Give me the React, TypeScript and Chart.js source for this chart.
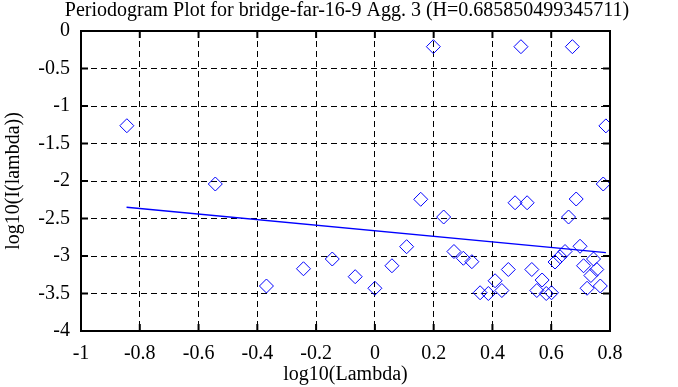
import React, { useEffect, useRef } from "react";
import { Chart, registerables } from "chart.js";

Chart.register(...registerables);

const TITLE = "Periodogram Plot for bridge-far-16-9 Agg. 3 (H=0.685850499345711)";
const X_LABEL = "log10(Lambda)";
const Y_LABEL = "log10(I(lambda))";

const logLambda = [
  -0.844, -0.543, -0.369, -0.243, -0.145, -0.067, 0.0, 0.058, 0.108, 0.156,
  0.199, 0.234, 0.269, 0.301, 0.33, 0.358, 0.386, 0.409, 0.432, 0.454,
  0.477, 0.497, 0.518, 0.534, 0.551, 0.569, 0.583, 0.601, 0.613, 0.63,
  0.647, 0.659, 0.672, 0.685, 0.698, 0.71, 0.722, 0.735, 0.744, 0.755,
  0.767, 0.777, 0.786,
];
const logI = [
  -1.263, -2.04, -3.4, -3.17, -3.04, -3.276, -3.43, -3.13, -2.876, -2.244,
  -0.209, -2.48, -2.94, -3.03, -3.076, -3.49, -3.5, -3.33, -3.46, -3.18,
  -2.29, -0.209, -2.29, -3.18, -3.46, -3.32, -3.5, -3.49, -3.08, -3.01,
  -2.94, -2.48, -0.209, -2.24, -2.87, -3.13, -3.43, -3.26, -3.04, -3.18,
  -3.4, -2.04, -1.265,
];
const fitX = [-0.845, 0.786];
const fitY = [-2.35, -2.956];

const X_MIN = -1, X_MAX = 0.8, X_STEP = 0.2;
const Y_MIN = -4, Y_MAX = 0, Y_STEP = 0.5;

const FONT = "'Liberation Serif', 'Times New Roman', serif";
const FS = 20;

const fmt = (v: any) => String(Math.round(Number(v) * 10) / 10);

const titleShiftPlugin = {
  id: "titleShift",
  afterLayout(chart: any) {
    const tb = chart.titleBlock;
    if (tb) {
      tb.left = 16;
      tb.right = 678;
    }
  },
};

const framePlugin = {
  id: "frame",
  afterDatasetsDraw(chart: any) {
    const { ctx, chartArea: a, scales } = chart;
    ctx.save();
    ctx.strokeStyle = "#000";
    ctx.lineWidth = 2;
    ctx.setLineDash([]);
    ctx.strokeRect(a.left, a.top, a.right - a.left, a.bottom - a.top);
    const len = 7;
    ctx.beginPath();
    scales.x.ticks.forEach((t: any) => {
      const px = scales.x.getPixelForValue(t.value);
      ctx.moveTo(px, a.bottom);
      ctx.lineTo(px, a.bottom - len);
      ctx.moveTo(px, a.top);
      ctx.lineTo(px, a.top + len);
    });
    scales.y.ticks.forEach((t: any) => {
      const py = scales.y.getPixelForValue(t.value);
      ctx.moveTo(a.left, py);
      ctx.lineTo(a.left + len, py);
      ctx.moveTo(a.right, py);
      ctx.lineTo(a.right - len, py);
    });
    ctx.stroke();
    ctx.restore();
  },
};

export default function App() {
  const ref = useRef<HTMLCanvasElement | null>(null);
  useEffect(() => {
    document.body.style.margin = "0";
    const canvas = ref.current!;
    const points = logLambda.map((x, i) => ({ x, y: logI[i] }));
    const fit = fitX.map((x, i) => ({ x, y: fitY[i] }));
    const chart = new Chart(canvas, {
      type: "scatter",
      data: {
        datasets: [
          {
            label: "fit",
            data: fit,
            showLine: true,
            borderColor: "#0000ff",
            borderWidth: 1.3,
            pointRadius: 0,
            fill: false,
          },
          {
            label: "periodogram",
            data: points,
            pointStyle: "rectRot",
            pointRadius: 7,
            pointBorderWidth: 1,
            pointBorderColor: "#0000ff",
            pointBackgroundColor: "rgba(0,0,0,0)",
            showLine: false,
          },
        ],
      },
      options: {
        animation: false,
        responsive: false,
        maintainAspectRatio: false,
        layout: { padding: { top: 0, right: 68, left: 0, bottom: 0 } },
        plugins: {
          legend: { display: false },
          tooltip: { enabled: false },
          title: {
            display: true,
            text: TITLE,
            color: "#000",
            font: { family: FONT, size: FS, weight: "normal", lineHeight: 1.0 },
            padding: { top: 1, bottom: 10 },
          },
        },
        scales: {
          x: {
            type: "linear",
            min: X_MIN,
            max: X_MAX,
            afterFit: (s: any) => { s.height = 56; },
            ticks: {
              stepSize: X_STEP,
              color: "#000",
              padding: 11,
              maxRotation: 0,
              font: { family: FONT, size: FS },
              callback: fmt,
            },
            grid: { color: "#000", lineWidth: 1, drawTicks: false },
            border: { display: false, dash: [6, 4] },
            title: {
              display: true,
              text: X_LABEL,
              color: "#000",
              font: { family: FONT, size: FS, lineHeight: 1.2 },
              padding: { top: 0, bottom: 0 },
            },
          },
          y: {
            type: "linear",
            min: Y_MIN,
            max: Y_MAX,
            afterFit: (s: any) => { s.width = 81; },
            ticks: {
              stepSize: Y_STEP,
              color: "#000",
              padding: 11,
              font: { family: FONT, size: FS },
              callback: fmt,
            },
            grid: { color: "#000", lineWidth: 1, drawTicks: false },
            border: { display: false, dash: [6, 4] },
            title: {
              display: true,
              text: Y_LABEL,
              color: "#000",
              font: { family: FONT, size: FS, lineHeight: 1.2 },
              padding: { top: 2, bottom: 0 },
            },
          },
        },
      },
      plugins: [titleShiftPlugin, framePlugin],
    });
    return () => chart.destroy();
  }, []);
  return (
    <div style={{ width: 678, height: 387, background: "#fff" }}>
      <canvas ref={ref} width={678} height={387} style={{ width: 678, height: 387, display: "block" }} />
    </div>
  );
}
